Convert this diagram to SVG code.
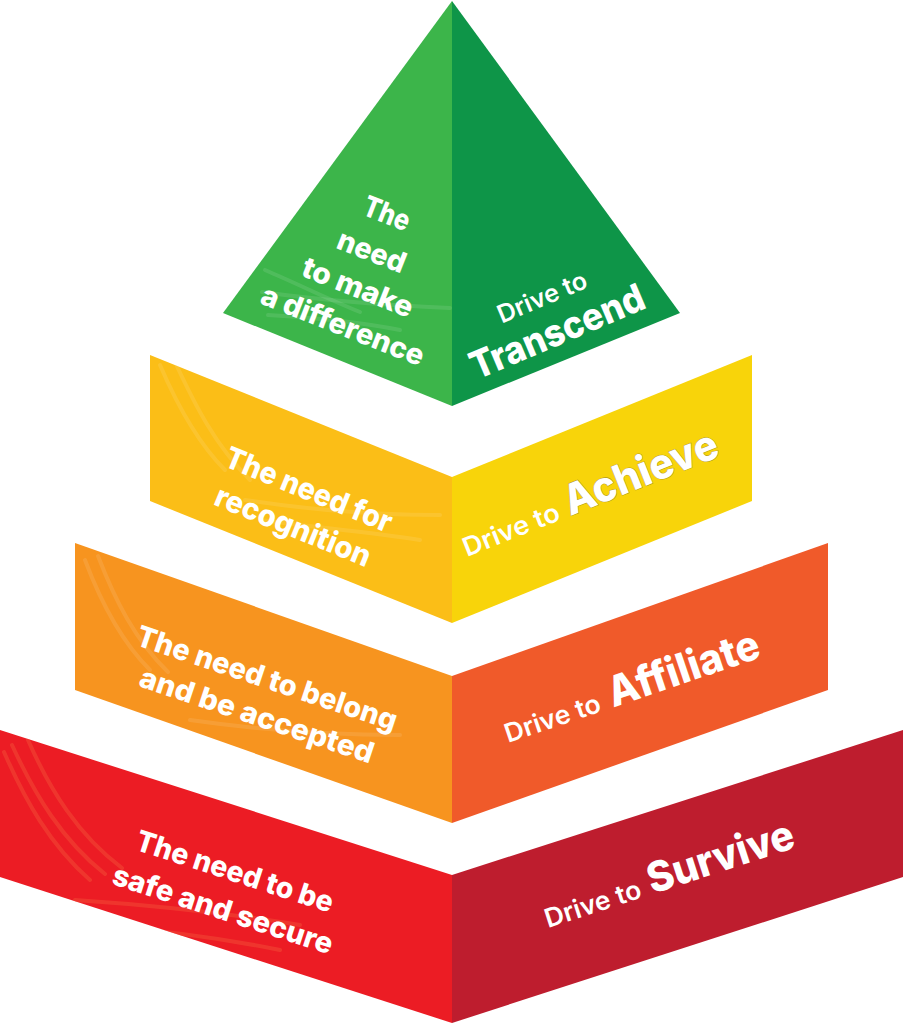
<svg xmlns="http://www.w3.org/2000/svg" width="903" height="1024" viewBox="0 0 903 1024">
<style>
.t{font-family:Inter,"Liberation Sans",Arial,sans-serif;fill:#ffffff;text-anchor:middle}
.b{font-weight:800}
.m{font-weight:600}
.s{text-anchor:start}
.sw{fill:none;stroke:#ffffff;stroke-opacity:0.1;stroke-width:4;stroke-linecap:round}
.swr{fill:none;stroke:#f5553a;stroke-opacity:0.45;stroke-width:4;stroke-linecap:round}
</style>
<defs>
<clipPath id="cG"><polygon points="452,1 223,313 452,406"/></clipPath>
<clipPath id="cY"><polygon points="150,355 452,477 452,623 150,501"/></clipPath>
<clipPath id="cO"><polygon points="75,543 452,676 452,823 75,690"/></clipPath>
<clipPath id="cR"><polygon points="0,730 452,875 452,1023 0,877"/></clipPath>
</defs>
<rect width="903" height="1024" fill="#ffffff"/>

<g id="level-transcend">
<polygon points="452,1 223,313 452,406" fill="#3cb54a"/>
<polygon points="452,1 680,313 452,406" fill="#0e9548"/>
<g clip-path="url(#cG)">
<path class="sw" d="M265,270 C300,285 330,300 360,312"/>
<path class="sw" d="M262,292 C320,300 380,305 450,308"/>
<path class="sw" d="M268,315 C320,318 360,322 400,330"/>
</g>
<text class="t b" font-size="29" transform="translate(387 213) rotate(21.5)" y="10.5" textLength="48" lengthAdjust="spacingAndGlyphs">The</text>
<text class="t b" font-size="29" transform="translate(372 251) rotate(21.5)" y="10.5" textLength="71" lengthAdjust="spacingAndGlyphs">need</text>
<text class="t b" font-size="29" transform="translate(358 287) rotate(21.5)" y="10.5" textLength="117" lengthAdjust="spacingAndGlyphs">to make</text>
<text class="t b" font-size="29" transform="translate(343 325) rotate(21.5)" y="10.5" textLength="173" lengthAdjust="spacingAndGlyphs">a difference</text>
<text class="t m" font-size="25" transform="translate(542 297) rotate(-23)" y="9" textLength="95" lengthAdjust="spacingAndGlyphs">Drive to</text>
<text class="t b" font-size="38" transform="translate(557 331) rotate(-23)" y="13.8" textLength="186" lengthAdjust="spacingAndGlyphs">Transcend</text>
</g>

<g id="level-achieve">
<polygon points="150,355 452,477 452,623 150,501" fill="#fbbe17"/>
<polygon points="452,477 752,355 752,501 452,623" fill="#f8d40a"/>
<g clip-path="url(#cY)">
<path class="sw" d="M160,365 C175,400 195,440 225,470"/>
<path class="sw" d="M175,362 C195,405 215,445 250,480"/>
<path class="sw" d="M245,500 C310,510 370,515 440,515"/>
<path class="sw" d="M260,520 C320,528 370,532 420,540"/>
</g>
<text class="t b" font-size="30" transform="translate(309 489) rotate(22.3)" y="11" textLength="178" lengthAdjust="spacingAndGlyphs">The need for</text>
<text class="t b" font-size="30" transform="translate(292 529) rotate(22.3)" y="7.4" textLength="166" lengthAdjust="spacingAndGlyphs">recognition</text>
<g transform="translate(467 557) rotate(-21.7)">
<text class="t m s" font-size="26" x="0" y="0" textLength="102" lengthAdjust="spacingAndGlyphs">Drive to</text>
<text class="t b s" font-size="42" x="111" y="0" textLength="163" lengthAdjust="spacingAndGlyphs" stroke="#8c7a30" stroke-width="1" stroke-opacity="0.7" paint-order="stroke">Achieve</text>
</g>
</g>

<g id="level-affiliate">
<polygon points="75,543 452,676 452,823 75,690" fill="#f7941f"/>
<polygon points="452,676 828,543 828,690 452,823" fill="#f05a2a"/>
<g clip-path="url(#cO)">
<path class="sw" d="M85,560 C100,600 120,640 150,670"/>
<path class="sw" d="M98,556 C115,600 135,640 168,672"/>
<path class="sw" d="M190,720 C260,730 330,735 400,735"/>
</g>
<text class="t b" font-size="29" transform="translate(266 681) rotate(18.5)" y="7.1" textLength="273" lengthAdjust="spacingAndGlyphs">The need to belong</text>
<text class="t b" font-size="29" transform="translate(256 718) rotate(18.5)" y="7.1" textLength="245" lengthAdjust="spacingAndGlyphs">and be accepted</text>
<g transform="translate(508 743) rotate(-18.7)">
<text class="t m s" font-size="26" x="0" y="0" textLength="100" lengthAdjust="spacingAndGlyphs">Drive to</text>
<text class="t b s" font-size="42" x="111" y="0" textLength="158" lengthAdjust="spacingAndGlyphs">Affiliate</text>
</g>
</g>

<g id="level-survive">
<polygon points="0,730 452,875 452,1023 0,877" fill="#ec1c24"/>
<polygon points="452,875 903,730 903,877 452,1023" fill="#be1d2e"/>
<g clip-path="url(#cR)">
<path class="swr" d="M4,752 C25,800 50,845 90,880"/>
<path class="swr" d="M12,745 C35,795 62,840 105,874"/>
<path class="swr" d="M28,740 C50,790 78,835 122,868"/>
<path class="swr" d="M75,900 C150,905 220,912 300,925"/>
<path class="swr" d="M120,928 C180,932 230,940 280,950"/>
</g>
<text class="t b" font-size="29" transform="translate(235 871) rotate(18)" y="10.5" textLength="206" lengthAdjust="spacingAndGlyphs">The need to be</text>
<text class="t b" font-size="29" transform="translate(223 909) rotate(18)" y="10.5" textLength="230" lengthAdjust="spacingAndGlyphs">safe and secure</text>
<g transform="translate(548 928) rotate(-18)">
<text class="t m s" font-size="26" x="0" y="0" textLength="100" lengthAdjust="spacingAndGlyphs">Drive to</text>
<text class="t b s" font-size="42" x="110" y="0" textLength="152" lengthAdjust="spacingAndGlyphs">Survive</text>
</g>
</g>
</svg>
